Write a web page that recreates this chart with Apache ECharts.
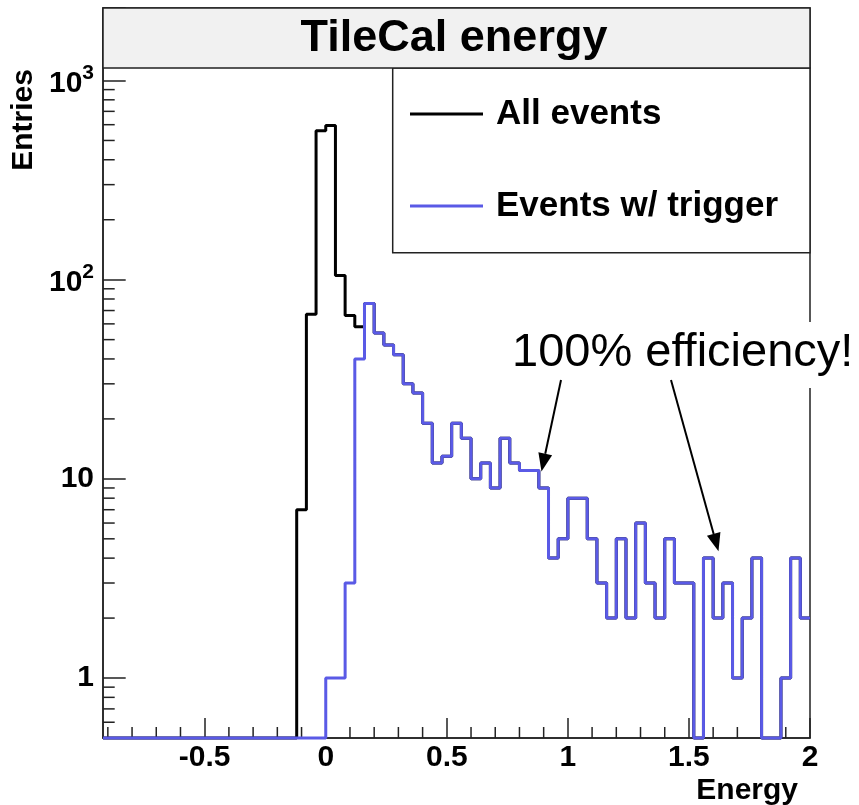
<!DOCTYPE html>
<html>
<head>
<meta charset="utf-8">
<script src="https://cdn.jsdelivr.net/npm/echarts@6/dist/echarts.min.js"></script>
<style>
html,body{margin:0;padding:0;background:#fff;}
#chart{width:859px;height:805px;}
</style>
</head>
<body>
<div id="chart"></div>
<script>
// ---- data ----
const X_MIN = -0.92, X_MAX = 2.0, BIN_W = 0.04;
const Y_MIN = 0.5, Y_MAX = 2312;

const binLowEdges = [
  -0.12, -0.08, -0.04, 0.00, 0.04, 0.08, 0.12, 0.16, 0.20, 0.24,
  0.28, 0.32, 0.36, 0.40, 0.44, 0.48, 0.52, 0.56, 0.60, 0.64,
  0.68, 0.72, 0.76, 0.80, 0.84, 0.88, 0.92, 0.96, 1.00, 1.04,
  1.08, 1.12, 1.16, 1.20, 1.24, 1.28, 1.32, 1.36, 1.40, 1.44,
  1.48, 1.52, 1.56, 1.60, 1.64, 1.68, 1.72, 1.76, 1.80, 1.84,
  1.88, 1.92, 1.96
];
const allEvents = [
  7, 67, 560, 595, 105, 66, 58, 76, 54, 47,
  42, 30, 27, 19, 12, 13, 19, 16, 10, 12,
  9, 16, 12, 11, 11, 9, 4, 5, 8, 8,
  5, 3, 2, 5, 2, 6, 3, 2, 5, 3,
  3, 0, 4, 2, 3, 1, 2, 4, 0, 0,
  1, 4, 2
];
const triggered = [
  0, 0, 0, 1, 1, 3, 40, 76, 54, 47,
  42, 30, 27, 19, 12, 13, 19, 16, 10, 12,
  9, 16, 12, 11, 11, 9, 4, 5, 8, 8,
  5, 3, 2, 5, 2, 6, 3, 2, 5, 3,
  3, 0, 4, 2, 3, 1, 2, 4, 0, 0,
  1, 4, 2
];
const xMajorTicks = [-0.5, 0, 0.5, 1, 1.5, 2];
const xMinorTicks = [-0.9, -0.8, -0.7, -0.6, -0.4, -0.3, -0.2, -0.1,
  0.1, 0.2, 0.3, 0.4, 0.6, 0.7, 0.8, 0.9, 1.1, 1.2, 1.3, 1.4,
  1.6, 1.7, 1.8, 1.9];
const yMinorTicks = [0.6, 0.7, 0.8, 0.9, 2, 3, 4, 5, 6, 7, 8, 9,
  20, 30, 40, 50, 60, 70, 80, 90, 200, 300, 400, 500, 600, 700, 800, 900, 2000];
const seriesNames = ['All events', 'Events w/ trigger'];
const arrowTargets = [[0.891, 10.9], [1.622, 4.33]];

// ---- build ----
const FONT = '"Liberation Sans", Arial, Helvetica, sans-serif';
const BLUE = '#5a5ae6';
const FRAME = '#222';

function stepPoints(vals) {
  const n = vals.length;
  const pts = [[X_MIN, Y_MIN]];
  vals.forEach((v, i) => pts.push([binLowEdges[i], Math.max(v, Y_MIN)]));
  pts.push([binLowEdges[n - 1] + BIN_W, Math.max(vals[n - 1], Y_MIN)]);
  return pts;
}

function isPow10(v) {
  const l = Math.log10(v);
  return Math.abs(l - Math.round(l)) < 1e-6;
}

const chart = echarts.init(document.getElementById('chart'), null, {renderer: 'canvas'});

const option = {
  animation: false,
  backgroundColor: '#fff',
  textStyle: {fontFamily: FONT},
  grid: {
    left: 103, right: 49, top: 8, bottom: 67,
    show: true, borderColor: FRAME, borderWidth: 1.5, backgroundColor: '#fff'
  },
  legend: {
    data: seriesNames,
    orient: 'vertical',
    left: 405, top: 89,
    itemWidth: 73, itemHeight: 3,
    itemGap: 52,
    icon: 'rect',
    z: 20,
    selectedMode: false,
    textStyle: {
      fontFamily: FONT, fontSize: 35, fontWeight: 'bold', color: '#000',
      lineHeight: 40, padding: [0, 0, 0, 8]
    }
  },
  xAxis: {
    type: 'value',
    min: X_MIN, max: X_MAX,
    axisLine: {show: true, onZero: false, lineStyle: {color: FRAME, width: 1.5}},
    axisTick: {show: true, inside: true, length: 20, customValues: xMajorTicks,
      lineStyle: {color: FRAME, width: 1.5}},
    axisLabel: {
      customValues: xMajorTicks,
      formatter: v => String(v),
      fontFamily: FONT, fontSize: 30, fontWeight: 'bold', color: '#000',
      margin: 5, lineHeight: 30
    },
    splitLine: {show: false}
  },
  yAxis: {
    type: 'log', logBase: 10,
    min: Y_MIN, max: Y_MAX,
    axisLine: {show: true, onZero: false, lineStyle: {color: FRAME, width: 1.5}},
    axisTick: {show: true, inside: true, length: 22.7, lineStyle: {color: FRAME, width: 1.5}},
    axisLabel: {
      fontFamily: FONT, fontWeight: 'bold', color: '#000', margin: 9,
      showMinLabel: true, showMaxLabel: true,
      formatter: function (v) {
        if (!isPow10(v)) return '';
        const e = Math.round(Math.log10(v));
        if (e === 0) return '{n|1}';
        if (e === 1) return '{n|10}';
        return '{b|10}{s|' + e + '}';
      },
      rich: {
        n: {fontFamily: FONT, fontSize: 30, fontWeight: 'bold', color: '#000', lineHeight: 30},
        b: {fontFamily: FONT, fontSize: 30, fontWeight: 'bold', color: '#000',
            lineHeight: 36, verticalAlign: 'bottom'},
        s: {fontFamily: FONT, fontSize: 21, fontWeight: 'bold', color: '#000',
            lineHeight: 22, verticalAlign: 'top'}
      }
    },
    splitLine: {show: false}
  },
  series: [
    {
      name: seriesNames[0], type: 'line', step: 'end',
      data: stepPoints(allEvents), showSymbol: false, symbol: 'none',
      clip: false, color: '#000',
      lineStyle: {color: '#000', width: 3}, z: 5
    },
    {
      name: seriesNames[1], type: 'line', step: 'end',
      data: stepPoints(triggered), showSymbol: false, symbol: 'none',
      clip: false, color: BLUE,
      lineStyle: {color: BLUE, width: 3}, z: 6
    },
    {
      name: 'xminor', type: 'custom', silent: true, z: 4,
      data: xMinorTicks.map(v => [v, Y_MIN]),
      renderItem: function (params, api) {
        const p = api.coord([api.value(0), Y_MIN]);
        return {type: 'line', shape: {x1: p[0], y1: p[1], x2: p[0], y2: p[1] - 11},
          style: {stroke: FRAME, lineWidth: 1.5}};
      }
    },
    {
      name: 'yminor', type: 'custom', silent: true, z: 4,
      data: yMinorTicks.map(v => [X_MIN, v]),
      renderItem: function (params, api) {
        const p = api.coord([X_MIN, api.value(1)]);
        return {type: 'line', shape: {x1: p[0], y1: p[1], x2: p[0] + 11.7, y2: p[1]},
          style: {stroke: FRAME, lineWidth: 1.5}};
      }
    }
  ]
};
chart.setOption(option);

// ---- annotations ----
function arrow(start, tip) {
  const dx = tip[0] - start[0], dy = tip[1] - start[1];
  const L = Math.sqrt(dx * dx + dy * dy);
  const ux = dx / L, uy = dy / L;
  const hl = 18, hw = 7;
  const bx = tip[0] - hl * ux, by = tip[1] - hl * uy;
  const px = -uy, py = ux;
  return [
    {type: 'line', z: 60, shape: {x1: start[0], y1: start[1], x2: bx, y2: by},
      style: {stroke: '#000', lineWidth: 2}},
    {type: 'polygon', z: 60, shape: {points: [[tip[0], tip[1]],
      [bx + hw * px, by + hw * py], [bx - hw * px, by - hw * py]]},
      style: {fill: '#000'}}
  ];
}

const tip1 = chart.convertToPixel({gridIndex: 0}, arrowTargets[0]);
const tip2 = chart.convertToPixel({gridIndex: 0}, arrowTargets[1]);

const graphics = [
  // title box
  {type: 'rect', z: 50, shape: {x: 103, y: 8, width: 707, height: 60},
    style: {fill: '#f1f1f1', stroke: FRAME, lineWidth: 1.5}},
  {type: 'text', z: 51, x: 454, y: 39,
    style: {text: 'TileCal energy', font: 'bold 45px ' + FONT, fill: '#000',
      textAlign: 'center', textVerticalAlign: 'middle'}},
  // legend box
  {type: 'rect', z: 10, shape: {x: 392.7, y: 68, width: 417.3, height: 184.7},
    style: {fill: '#fff', stroke: FRAME, lineWidth: 1.5}},
  // axis titles
  {type: 'text', z: 51, x: 24, y: 120, rotation: Math.PI / 2,
    style: {text: 'Entries', font: 'bold 30px ' + FONT, fill: '#000',
      textAlign: 'center', textVerticalAlign: 'middle'}},
  {type: 'text', z: 51, x: 798, y: 791,
    style: {text: 'Energy', font: 'bold 30px ' + FONT, fill: '#000',
      textAlign: 'right', textVerticalAlign: 'middle'}},
  // annotation text box
  {type: 'rect', z: 55, shape: {x: 506, y: 322, width: 353, height: 66},
    style: {fill: '#fff'}},
  {type: 'text', z: 56, x: 512, y: 353,
    style: {text: '100% efficiency!', font: '47px ' + FONT, fill: '#000',
      textAlign: 'left', textVerticalAlign: 'middle'}}
].concat(arrow([561, 380], tip1)).concat(arrow([671, 380], tip2));

chart.setOption({graphic: {elements: graphics}});
</script>
</body>
</html>
